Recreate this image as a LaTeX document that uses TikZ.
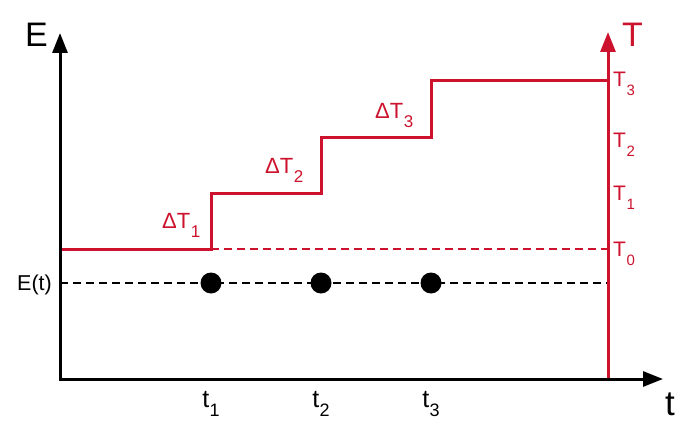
\documentclass[tikz,border=0pt]{standalone}
\usepackage{fontspec}
\setmainfont{Liberation Sans}
\usetikzlibrary{arrows.meta}
\definecolor{stepred}{RGB}{204,18,44}
\newcommand{\lowidx}[2][15]{\kern0.5pt\raisebox{-9pt}{\fontsize{#1}{#1}\selectfont #2}}

\begin{document}
\begin{tikzpicture}[x=1pt, y=-1pt]
  \useasboundingbox (0,0) rectangle (683,444);
  \tikzset{
    axis/.style={line width=3pt, line join=miter},
    bigtip/.tip={Triangle[length=20pt,width=15pt]},
    dashline/.style={line width=1.4pt, dash pattern=on 8pt off 5pt},
    lab/.style={inner sep=0pt, anchor=base west},
    sz/.style={font=\fontsize{#1}{#1}\selectfont},
  }
  % axis end points
  \coordinate (O) at (60,379);
  \coordinate (Etop) at (60,33);
  \coordinate (tend) at (663,379);
  \coordinate (Tbot) at (608,379);
  \coordinate (Ttop) at (608,32);
  \coordinate (Et) at (60,283);
  \coordinate (T0) at (211,249);
  % levels
  \draw[dashline, stepred, line width=1.2pt] (T0) -- (T0 -| Tbot);
  \draw[dashline] (Et) -- (Et -| Tbot);
  \draw[axis, stepred] (60,249) -| (211,193.5) -| (321,137.5) -| (431,81) -- (608,81);
  % axes
  \draw[axis, stepred, -bigtip] (Tbot) -- (Ttop);
  \draw[axis, bigtip-bigtip] (Etop) -- (O) -- (tend);
  \node[lab, sz=34] (Elab) at (25,47) {E};
  \node[lab, sz=34, stepred] (Tlab) at (622,47) {T};
  \node[lab, sz=35] (tlab) at (665,415) {t};
  \node[inner sep=0pt, anchor=base east, sz=21.5] (Etlab) at (52,290) {E(t)};
  % points and times
  \foreach \x/\n in {211/1,321/2,431/3} {
    \fill (\x,283) circle (10.5);
    \node[inner sep=0pt, anchor=base, sz=25] (t\n) at (\x,407) {t\lowidx[18]{\n}};
  }
  % temperature marks
  \foreach \n/\y in {0/256,1/200,2/147,3/87} {
    \node[lab, sz=21, stepred] (T\n lab) at (613,\y) {T\lowidx{\n}};
  }
  % steps
  \foreach \n/\x/\y in {1/162/228,2/265/173,3/375/118} {
    \node[lab, sz=22, stepred] (dT\n) at (\x,\y) {ΔT\lowidx[17]{\n}};
  }
\end{tikzpicture}
\end{document}
